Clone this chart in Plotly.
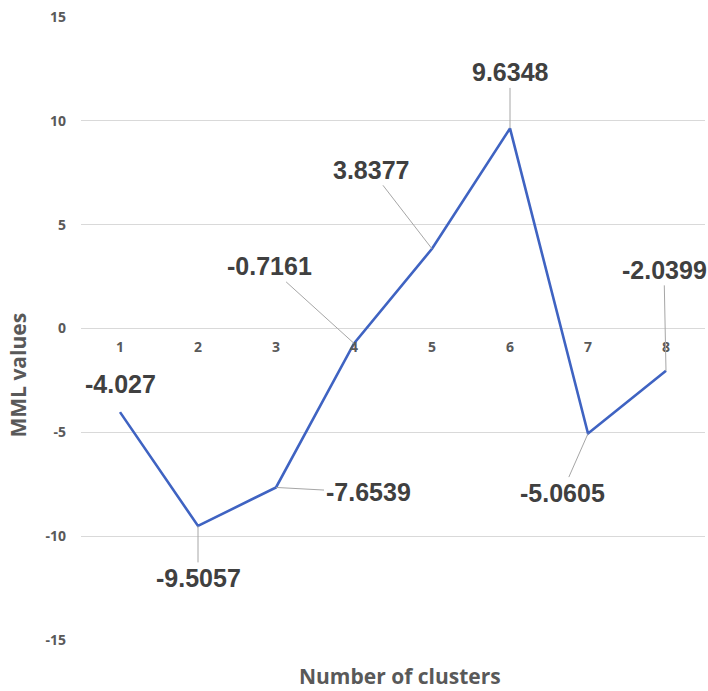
import plotly.graph_objects as go

# MML value for each number of clusters
clusters = ["1", "2", "3", "4", "5", "6", "7", "8"]
mml_values = [-4.027, -9.5057, -7.6539, -0.7161, 3.8377, 9.6348, -5.0605, -2.0399]
value_labels = ["-4.027", "-9.5057", "-7.6539", "-0.7161", "3.8377", "9.6348", "-5.0605", "-2.0399"]

# y-axis ticks
y_ticks = [-15, -10, -5, 0, 5, 10, 15]
y_tick_text = ["-15", "-10", "-5", "0", "5", "10", "15"]

# label offsets (px) from each point
label_offsets = [(0, -28), (0, 52), (92, 5), (-85, -77), (-61, -79), (0, -56), (-26, 59), (-2, -101)]

LINE_BLUE = "#3f63c2"
GRID = "#d9d9d9"
TICK_GREY = "#595959"
LABEL_GREY = "#404040"

fig = go.Figure()
fig.add_trace(go.Scatter(
    x=clusters, y=mml_values, mode="lines",
    line=dict(color=LINE_BLUE, width=2.6),
    hoverinfo="x+y", showlegend=False,
))

label_font = dict(family="Liberation Sans, Arial, sans-serif", size=25,
                  color=LABEL_GREY, weight="bold")
for i, (val, txt) in enumerate(zip(mml_values, value_labels)):
    ax, ay = label_offsets[i]
    # category axis: position annotations by category index
    common = dict(x=i, y=val, xref="x", yref="y", text=txt, font=label_font)
    if i == 0:
        fig.add_annotation(**common, showarrow=False, yshift=-ay)
    else:
        fig.add_annotation(**common, showarrow=True, arrowhead=0, arrowwidth=1,
                           arrowcolor="#a6a6a6", ax=ax, ay=ay, standoff=0)

# axis titles
title_font = dict(family="Open Sans", size=21, color=TICK_GREY, weight="bold")
fig.add_annotation(text="Number of clusters", xref="paper", yref="paper",
                   x=0.5, y=0, xanchor="center", yanchor="middle",
                   xshift=7, yshift=-36, showarrow=False, font=title_font)
fig.add_annotation(text="MML values", xref="paper", yref="paper",
                   x=0, y=0.5, xanchor="center", yanchor="middle",
                   xshift=-64, yshift=-47, textangle=-90, showarrow=False,
                   font=title_font)

tick_font = dict(family="Open Sans", size=14, color=TICK_GREY, weight="bold")
fig.update_layout(
    width=708, height=691,
    margin=dict(l=81, r=3, t=17, b=51),
    paper_bgcolor="white", plot_bgcolor="white",
    xaxis=dict(
        type="category", range=[-0.5, 7.5],
        anchor="free", position=0.5,
        showgrid=False, showline=False, zeroline=False, ticks="",
        tickfont=tick_font, ticklabelstandoff=8,
    ),
    yaxis=dict(
        range=[-15, 15], tickvals=y_ticks, ticktext=y_tick_text,
        showgrid=True, gridcolor=GRID, gridwidth=1,
        zeroline=True, zerolinecolor=GRID, zerolinewidth=1,
        showline=False, ticks="",
        tickfont=tick_font, ticklabelstandoff=14,
    ),
)

fig.write_html("out.html")
